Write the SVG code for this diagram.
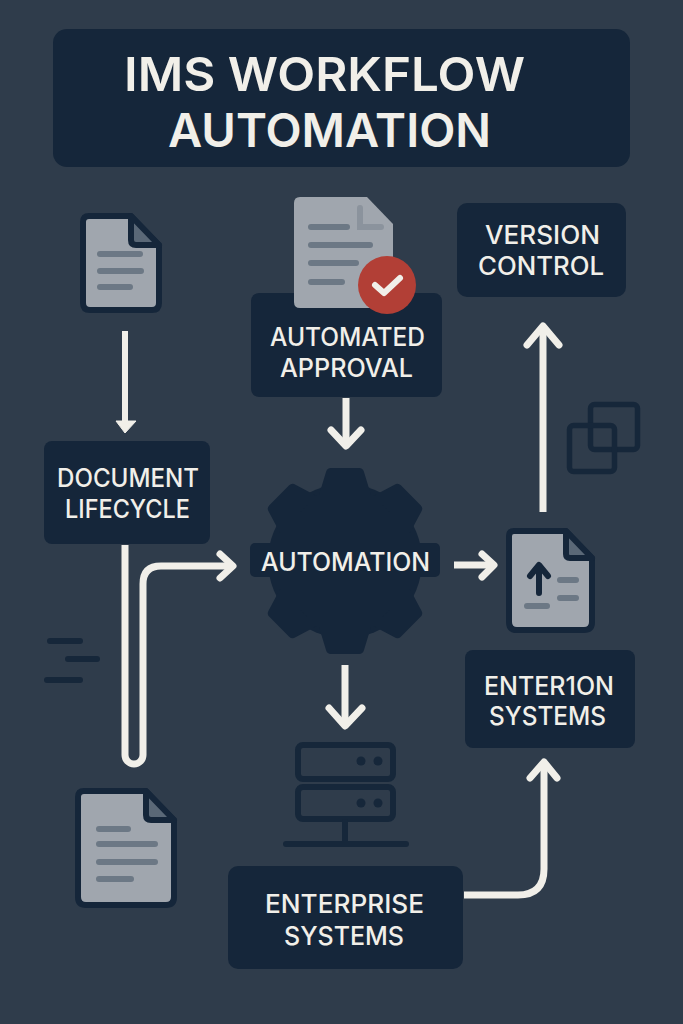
<svg xmlns="http://www.w3.org/2000/svg" xmlns:xlink="http://www.w3.org/1999/xlink" width="683" height="1024" viewBox="0 0 683 1024">
<style>
.box{fill:#15263a}
.t{font-family:"Inter","Liberation Sans",sans-serif;font-weight:500;fill:#f1efe9}
.f24{font-size:25px}
.f48{font-size:47px;font-weight:600}
.doc{fill:#a0a6ae;stroke:#15263a;stroke-width:6;stroke-linejoin:round}
.fold{fill:#5a6877;stroke:#15263a;stroke-width:6;stroke-linejoin:round}
.ln{stroke:#6c7885;stroke-width:6;stroke-linecap:round;fill:none}
.dk{stroke:#16273a;fill:none;stroke-width:6;stroke-linecap:round;stroke-linejoin:round}
.c{stroke:#f1efe9;stroke-width:7;fill:none}
.h{stroke:#f1efe9;stroke-width:7;fill:none;stroke-linecap:round;stroke-linejoin:round}
</style>
<defs>
<g id="tooth"><path d="M-26 -66 L-19 -89 Q-18 -93 -14 -93 H14 Q18 -93 19 -89 L26 -66 Z" fill="#15263a"/></g>
</defs>
<rect width="683" height="1024" fill="#2f3c4b"/>

<g id="title">
<rect class="box" x="53" y="29" width="577" height="138" rx="14"/>
<text class="t f48" x="124" y="91" textLength="401" lengthAdjust="spacingAndGlyphs">IMS WORKFLOW</text>
<text class="t f48" x="168" y="147" textLength="323" lengthAdjust="spacingAndGlyphs">AUTOMATION</text>
</g>

<g id="connectors">
<path class="c" d="M125 331V421" style="stroke-width:6"/>
<path d="M116 421H136L125 433Z" fill="#f1efe9" stroke="#f1efe9" stroke-width="1" stroke-linejoin="round"/>
<path class="c" d="M346 398V444"/>
<path class="h" d="M331 430L346 446L361 430"/>
<path class="c" d="M125 545V755A9 9 0 0 0 143 755V584Q143 566 161 566H231"/>
<path class="h" d="M220 554L233 566L220 578"/>
<path class="c" d="M454 565H492"/>
<path class="h" d="M482 554L494 565L482 577"/>
<path class="c" d="M345 665V724"/>
<path class="h" d="M329 708L345 726L362 708"/>
<path class="c" d="M543 512V328"/>
<path class="h" d="M527 345L543 326L559 345"/>
<path class="c" d="M464 895H518Q544 895 544 869V765"/>
<path class="h" d="M530 778L544 762L557 778"/>
</g>

<g id="doc-top-left">
<path class="doc" d="M89 216H131L159 245V303Q159 310 152 310H90Q83 310 83 303V222Q83 216 89 216Z"/>
<path class="fold" d="M131 216L159 245H136Q131 245 131 240Z"/>
<path class="ln" d="M100 254H140M100 271H141M100 287H130"/>
</g>

<g id="automated-approval">
<rect class="box" x="251" y="293" width="191" height="104" rx="8"/>
<path d="M300 197H367L393 224V308H300Q294 308 294 302V203Q294 197 300 197Z" fill="#a0a6ae"/>
<path d="M360 208V227H381" fill="none" stroke="#8b939d" stroke-width="6" stroke-linecap="round"/>
<path class="ln" d="M311 227H347M311 245H370M311 263H356M311 282H342"/>
<circle cx="387" cy="285" r="29" fill="#b23f36"/>
<path d="M375 285L384 293L400 278" fill="none" stroke="#f1efe9" stroke-width="6" stroke-linecap="round" stroke-linejoin="round"/>
<text class="t f24" x="270" y="346" textLength="155" lengthAdjust="spacingAndGlyphs">AUTOMATED</text>
<text class="t f24" x="280" y="377" textLength="133" lengthAdjust="spacingAndGlyphs">APPROVAL</text>
</g>

<g id="version-control">
<rect class="box" x="457" y="203" width="169" height="94" rx="10"/>
<text class="t f24" x="485" y="244" textLength="115" lengthAdjust="spacingAndGlyphs">VERSION</text>
<text class="t f24" x="478" y="275" textLength="126" lengthAdjust="spacingAndGlyphs">CONTROL</text>
</g>

<g id="overlap-squares">
<rect class="dk" x="590.500" y="404.500" width="47" height="45" rx="4" style="stroke-width:5.500"/>
<rect class="dk" x="569.500" y="425.500" width="45" height="46" rx="4" style="stroke-width:5.500"/>
</g>

<g id="document-lifecycle">
<rect class="box" x="44" y="441" width="166" height="103" rx="8"/>
<text class="t f24" x="57" y="487" textLength="142" lengthAdjust="spacingAndGlyphs">DOCUMENT</text>
<text class="t f24" x="65" y="518" textLength="125" lengthAdjust="spacingAndGlyphs">LIFECYCLE</text>
</g>

<g id="automation">
<circle class="box" cx="345" cy="561" r="77"/>
<use href="#tooth" transform="translate(345 561)"/>
<use href="#tooth" transform="translate(345 561) rotate(45)"/>
<use href="#tooth" transform="translate(345 561) rotate(135)"/>
<use href="#tooth" transform="translate(345 561) rotate(180)"/>
<use href="#tooth" transform="translate(345 561) rotate(225)"/>
<use href="#tooth" transform="translate(345 561) rotate(315)"/>
<rect class="box" x="250" y="543" width="190" height="34" rx="5"/>
<text class="t f24" x="261" y="571" textLength="169" lengthAdjust="spacingAndGlyphs">AUTOMATION</text>
</g>

<g id="doc-upload">
<path class="doc" d="M514 531H566L592 558V622Q592 630 584 630H517Q509 630 509 622V536Q509 531 514 531Z"/>
<path class="fold" d="M566 531L592 558H570Q566 558 566 554Z"/>
<path d="M539 593V566M530 576L539 565L548 576" fill="none" stroke="#15263a" stroke-width="6" stroke-linejoin="round" stroke-linecap="round"/>
<path class="ln" d="M560 580H576M560 598H576M527 606H547"/>
</g>

<g id="enterion-systems">
<rect class="box" x="465" y="650" width="170" height="98" rx="8"/>
<text class="t f24" x="484" y="695" textLength="130" lengthAdjust="spacingAndGlyphs">ENTER1ON</text>
<text class="t f24" x="489" y="725" textLength="117" lengthAdjust="spacingAndGlyphs">SYSTEMS</text>
</g>

<g id="dashes">
<path class="dk" d="M50 641H80M68 659H97M47 680H80"/>
</g>

<g id="server">
<rect class="dk" x="298" y="745" width="95" height="34" rx="5"/>
<rect class="dk" x="298" y="787" width="95" height="32" rx="5"/>
<circle cx="361" cy="761" r="4.500" fill="#16273a"/><circle cx="378" cy="761" r="4.500" fill="#16273a"/>
<circle cx="361" cy="803" r="4.500" fill="#16273a"/><circle cx="378" cy="803" r="4.500" fill="#16273a"/>
<path class="dk" d="M345 822V844M286 844H406"/>
</g>

<g id="doc-bottom-left">
<path class="doc" d="M84 791H146L174 820V897Q174 905 166 905H86Q78 905 78 897V797Q78 791 84 791Z"/>
<path class="fold" d="M146 791L174 820H151Q146 820 146 815Z"/>
<path class="ln" d="M99 829H128M99 844H155M99 862H155M99 879H131"/>
</g>

<g id="enterprise-systems">
<rect class="box" x="228" y="866" width="235" height="103" rx="10"/>
<text class="t f24" x="265" y="913" textLength="159" lengthAdjust="spacingAndGlyphs">ENTERPRISE</text>
<text class="t f24" x="284" y="945" textLength="120" lengthAdjust="spacingAndGlyphs">SYSTEMS</text>
</g>
</svg>
